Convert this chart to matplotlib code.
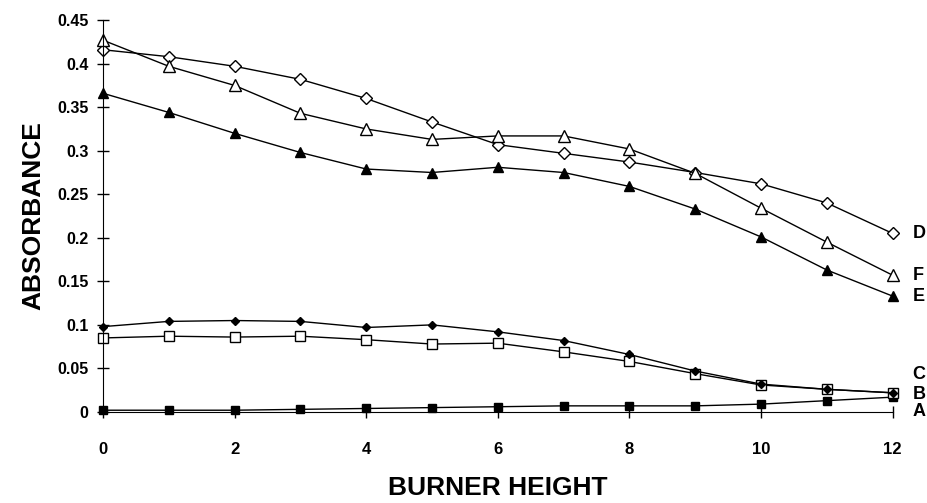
import matplotlib.pyplot as plt

# burner height (x) and absorbance for each curve
height = list(range(13))
A = [0.002, 0.002, 0.002, 0.003, 0.004, 0.005, 0.006, 0.007, 0.007, 0.007, 0.009, 0.013, 0.017]
B = [0.085, 0.087, 0.086, 0.087, 0.083, 0.078, 0.079, 0.069, 0.058, 0.044, 0.031, 0.026, 0.022]
C = [0.098, 0.104, 0.105, 0.104, 0.097, 0.100, 0.092, 0.082, 0.066, 0.047, 0.032, 0.026, 0.022]
D = [0.416, 0.408, 0.397, 0.382, 0.360, 0.333, 0.307, 0.297, 0.287, 0.275, 0.262, 0.240, 0.205]
E = [0.366, 0.344, 0.320, 0.298, 0.279, 0.275, 0.281, 0.275, 0.259, 0.233, 0.201, 0.163, 0.133]
F = [0.427, 0.397, 0.375, 0.343, 0.325, 0.313, 0.317, 0.317, 0.302, 0.274, 0.234, 0.195, 0.157]

labels = ["A", "B", "C", "D", "E", "F"]
label_y = [0.0, 0.02, 0.043, 0.205, 0.133, 0.157]

plt.rcParams['font.family'] = ['Liberation Sans', 'DejaVu Sans']
plt.rcParams['font.weight'] = 'bold'

fig = plt.figure(figsize=(9.27, 5.03), dpi=100)
ax = fig.add_axes([0.111, 0.181, 0.852, 0.779])

kw = dict(color='black', linewidth=1.0, clip_on=False)
ax.plot(height, A, marker='s', markersize=6, markerfacecolor='black', **kw)
ax.plot(height, B, marker='s', markersize=7, markerfacecolor='white', **kw)
ax.plot(height, C, marker='D', markersize=4.5, markerfacecolor='black', **kw)
ax.plot(height, D, marker='D', markersize=6.5, markerfacecolor='white', **kw)
ax.plot(height, E, marker='^', markersize=6.5, markerfacecolor='black', **kw)
ax.plot(height, F, marker='^', markersize=8.5, markerfacecolor='white', **kw)

for lab, y in zip(labels, label_y):
    ax.text(12.3, y, lab, fontsize=13, fontweight='bold', va='center', ha='left')

ax.set_xlim(0, 12)
ax.set_ylim(0, 0.45)
ax.set_xticks(range(0, 13, 2))
ax.set_yticks([0, 0.05, 0.1, 0.15, 0.2, 0.25, 0.3, 0.35, 0.4, 0.45])
ax.set_yticklabels(["0", "0.05", "0.1", "0.15", "0.2", "0.25", "0.3", "0.35", "0.4", "0.45"])
ax.tick_params(direction='inout', length=9, width=1, labelsize=11.5, pad=6)
ax.tick_params(axis='x', pad=17, labelsize=12)

ax.spines['top'].set_visible(False)
ax.spines['right'].set_visible(False)

ax.set_xlabel("BURNER HEIGHT", fontsize=19, fontweight='bold', labelpad=14)
ax.set_ylabel("ABSORBANCE", fontsize=19, fontweight='bold', labelpad=8)

fig.savefig("out.png", dpi=100)
